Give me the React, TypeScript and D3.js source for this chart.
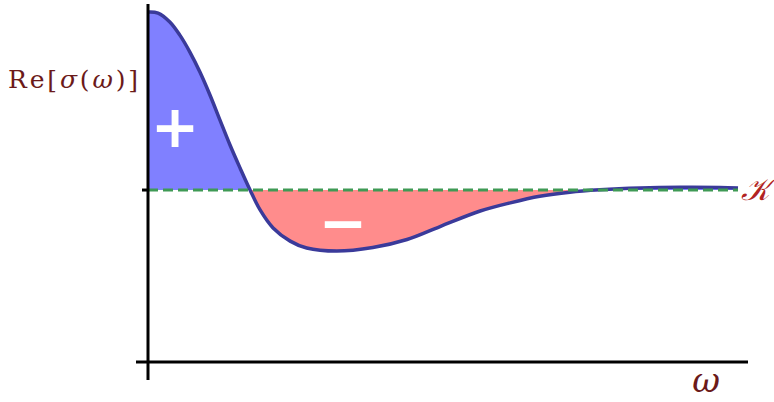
import React from "react";
import * as d3 from "d3";

const omega = [0, 0.17, 0.37, 0.54, 0.71, 0.88, 1.05, 1.22, 1.39, 1.56, 1.73, 1.9, 2.12, 2.41, 2.69, 3.2, 3.81, 4.39, 4.95, 5.63, 6.14, 6.64, 7.15, 7.66, 8.34, 9.02, 9.69, 10];
const reSigma = [1.0, 0.994, 0.944, 0.87, 0.775, 0.663, 0.534, 0.393, 0.253, 0.124, 0, -0.112, -0.213, -0.287, -0.326, -0.343, -0.323, -0.278, -0.205, -0.118, -0.072, -0.035, -0.012, 0.001, 0.011, 0.015, 0.014, 0.011];
const xLabel = "ω";
const kLabel = "𝒦";

export default function App() {
  const W = 774, H = 402;
  const x = d3.scaleLinear().domain([0, 10]).range([148, 738]);
  const y = d3.scaleLinear().domain([-0.966, 1]).range([362, 12]);
  const pts = omega.map((o, i) => ({ o, v: reSigma[i] }));
  const curve = d3.curveCatmullRom.alpha(0.5);
  const posArea = d3.area<any>().x(d => x(d.o)).y0(y(0)).y1(d => y(Math.max(d.v, 0))).curve(curve);
  const negArea = d3.area<any>().x(d => x(d.o)).y0(y(0)).y1(d => y(Math.min(d.v, 0))).curve(curve);
  const line = d3.line<any>().x(d => x(d.o)).y(d => y(d.v)).curve(curve);
  const ax = x(0);
  const ay = y(-0.966);
  return (
    <svg width={W} height={H} style={{ position: "absolute", left: 0, top: 0 }}>
      <path d={posArea(pts) || ""} fill="#8080ff" />
      <path d={negArea(pts) || ""} fill="#ff8c8c" />
      <path d={line(pts) || ""} fill="none" stroke="#3a3a9a" strokeWidth={3.5} strokeLinejoin="round" />
      <line x1={ax} x2={x(10)} y1={y(0)} y2={y(0)} stroke="#3f9a55" strokeWidth={3} strokeDasharray="10,5" />
      <line x1={ax} x2={ax} y1={4} y2={380} stroke="#000" strokeWidth={3} />
      <line x1={136} x2={748} y1={ay} y2={ay} stroke="#000" strokeWidth={3} />
      <line x1={142} x2={ax} y1={y(0)} y2={y(0)} stroke="#000" strokeWidth={3} />
      <text x={175} y={127} fill="#fff" fontFamily="DejaVu Sans" fontWeight="bold" fontSize={58} textAnchor="middle" dominantBaseline="central">+</text>
      <text x={343} y={223} fill="#fff" fontFamily="DejaVu Sans" fontWeight="bold" fontSize={58} textAnchor="middle" dominantBaseline="central">−</text>
      <text x={8} y={88} fill="#6b1a1a" fontFamily="DejaVu Serif" fontSize={25} textLength={130} lengthAdjust="spacing">
        <tspan>Re[</tspan><tspan fontStyle="italic">σ</tspan><tspan>(</tspan><tspan fontStyle="italic">ω</tspan><tspan>)]</tspan>
      </text>
      <text x={706} y={392} fill="#6b1a1a" fontFamily="DejaVu Serif" fontStyle="italic" fontSize={34} textAnchor="middle">{xLabel}</text>
      <text x={741} y={200} fill="#b22222" fontFamily="DejaVu Serif" fontStyle="italic" fontSize={31}>{kLabel}</text>
    </svg>
  );
}
